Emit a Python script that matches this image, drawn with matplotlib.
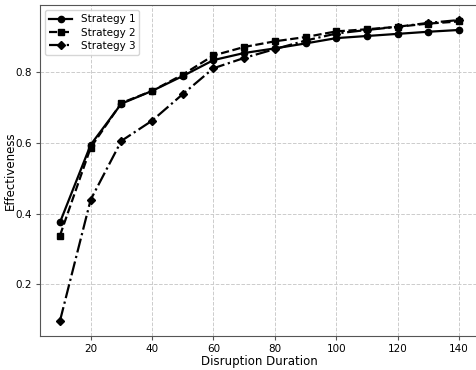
import matplotlib
matplotlib.use("Agg")
import matplotlib.pyplot as plt

# Disruption durations and effectiveness for each strategy
durations = [10, 20, 30, 40, 50, 60, 70, 80, 90, 100, 110, 120, 130, 140]
strategy_1 = [0.375, 0.594, 0.710, 0.746, 0.788, 0.833, 0.853, 0.866, 0.880, 0.895, 0.901, 0.907, 0.913, 0.918]
strategy_2 = [0.338, 0.586, 0.712, 0.746, 0.792, 0.846, 0.870, 0.886, 0.898, 0.914, 0.920, 0.927, 0.936, 0.942]
strategy_3 = [0.097, 0.439, 0.605, 0.662, 0.737, 0.810, 0.839, 0.864, 0.888, 0.908, 0.918, 0.927, 0.938, 0.946]

fig = plt.figure(figsize=(4.76, 3.70), dpi=100)
ax = fig.add_axes([40 / 476, 34 / 370, 439 / 476, 331 / 370])

ax.plot(durations, strategy_1, color='black', linestyle='-', marker='o', markersize=4.5, linewidth=1.6, label='Strategy 1')
ax.plot(durations, strategy_2, color='black', linestyle='--', marker='s', markersize=4.5, linewidth=1.6, label='Strategy 2')
ax.plot(durations, strategy_3, color='black', linestyle='-.', marker='D', markersize=4.5, linewidth=1.6, label='Strategy 3')

ax.set_xlabel('Disruption Duration', fontsize=8.5, labelpad=1)
ax.set_ylabel('Effectiveness', fontsize=8.5, labelpad=-1)
ax.set_xticks([20, 40, 60, 80, 100, 120, 140])
ax.set_yticks([0.2, 0.4, 0.6, 0.8])
ax.tick_params(labelsize=7.5, color='#555555', length=3, pad=2.5)
ax.grid(True, linestyle='--', color='#cccccc', linewidth=0.7)
for s in ax.spines.values():
    s.set_color('#555555')

ax.legend(loc='upper left', fontsize=7.5, handlelength=2.2, borderpad=0.4, labelspacing=0.3)

fig.savefig('out.png', dpi=100)
